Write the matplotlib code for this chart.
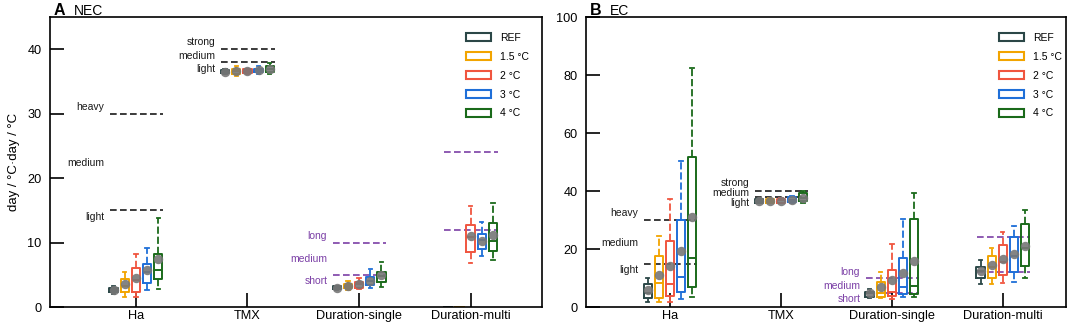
import numpy as np
import matplotlib.pyplot as plt
from matplotlib.patches import Patch

plt.rcParams['font.family'] = ['Liberation Sans', 'DejaVu Sans']

categories = ['Ha', 'TMX', 'Duration-single', 'Duration-multi']
scenarios = ['REF', '1.5 °C', '2 °C', '3 °C', '4 °C']
colors = ['#2b4747', '#f2a400', '#f0553f', '#1f6fd8', '#1a6a1a']

# thresholds per category (lower, upper)
thresholds = [[15, 30], [38, 40], [5, 10], [12, 24]]
thr_labels = [['light', 'medium', 'heavy'], ['light', 'medium', 'strong'],
              ['short', 'medium', 'long'], None]

# NEC panel: rows = categories, columns = scenarios
nec_lo = [[2.0, 1.6, 1.6, 2.6, 2.8], [36.2, 35.9, 36.1, 36.2, 36.1],
          [2.6, 2.6, 2.75, 3.0, 3.15], [0, 0, 6.9, 7.9, 7.3]]
nec_q1 = [[2.4, 2.3, 2.4, 3.8, 4.35], [36.3, 36.2, 36.3, 36.4, 36.5],
          [2.8, 2.9, 2.95, 3.4, 3.9], [0, 0, 8.5, 8.95, 8.7]]
nec_med = [[2.7, 3.2, 4.2, 5.4, 5.8], [36.5, 36.6, 36.6, 36.7, 36.9],
           [3.0, 3.3, 3.5, 4.0, 4.8], [0, 0, 10.9, 10.4, 10.3]]
nec_q3 = [[3.0, 4.3, 6.1, 6.6, 8.3], [36.8, 37.0, 36.9, 37.0, 37.4],
          [3.2, 3.6, 3.9, 4.6, 5.4], [0, 0, 12.7, 11.3, 13.0]]
nec_hi = [[3.3, 5.4, 8.3, 9.2, 13.8], [36.9, 37.4, 37.0, 37.4, 37.8],
          [3.3, 4.0, 4.45, 5.85, 7.0], [0, 0, 15.6, 13.25, 16.1]]
nec_mean = [[2.7, 3.5, 4.5, 5.7, 7.4], [36.5, 36.6, 36.6, 36.7, 36.9],
            [3.0, 3.3, 3.5, 4.1, 4.9], [np.nan, np.nan, 11.0, 10.3, 11.1]]

# EC panel
ec_lo = [[1.8, 1.6, 1.8, 2.6, 3.5], [35.8, 35.8, 35.9, 35.9, 35.9],
         [3.1, 3.0, 2.6, 3.5, 3.5], [7.8, 7.9, 8.4, 8.7, 9.9]]
ec_q1 = [[3.2, 3.2, 3.8, 5.1, 6.8], [36.0, 36.0, 36.0, 36.3, 36.4],
         [3.6, 3.6, 3.8, 4.5, 4.4], [9.9, 9.9, 11.0, 12.0, 14.3]]
ec_med = [[4.9, 8.2, 7.9, 10.5, 17.0], [36.7, 36.7, 36.8, 37.0, 37.5],
          [4.7, 4.7, 5.3, 6.8, 7.4], [12.4, 13.7, 15.4, 17.6, 20.3]]
ec_q3 = [[7.8, 17.7, 22.6, 30.0, 51.7], [37.4, 37.4, 37.4, 37.8, 39.2],
         [5.3, 8.7, 12.8, 17.0, 30.3], [13.7, 17.6, 21.4, 24.0, 28.7]]
ec_hi = [[10.1, 24.6, 37.3, 50.4, 82.4], [37.6, 37.6, 37.6, 38.4, 40.1],
         [6.3, 12.2, 21.6, 30.3, 39.2], [16.2, 20.5, 25.8, 28.1, 33.3]]
ec_mean = [[5.9, 11.0, 14.3, 19.4, 31.0], [36.7, 36.7, 36.7, 37.0, 37.6],
           [4.7, 7.0, 9.3, 11.8, 15.9], [12.4, 14.5, 16.6, 18.2, 21.2]]

panels = [
    dict(tag='A', name='NEC', stats=(nec_lo, nec_q1, nec_med, nec_q3, nec_hi, nec_mean),
         ylim=(0, 45), yticks=[0, 10, 20, 30, 40], xlim=(0.23, 4.64),
         rect=[50 / 1084, 21 / 328, 492 / 1084, 290 / 328], legx=0.846,
         # label y-positions for threshold texts (Ha, TMX, Duration-single)
         lab_y=[[14.0, 22.3, 31.0], [37.0, 38.9, 41.1], [4.0, 7.4, 11.0]]),
    dict(tag='B', name='EC', stats=(ec_lo, ec_q1, ec_med, ec_q3, ec_hi, ec_mean),
         ylim=(0, 100), yticks=[0, 20, 40, 60, 80, 100], xlim=(0.243, 4.57),
         rect=[586 / 1084, 21 / 328, 480 / 1084, 290 / 328], legx=0.86,
         lab_y=[[12.8, 22.1, 32.4], [35.8, 39.2, 42.7], [2.8, 7.4, 12.2]]),
]

offsets = np.array([-0.2, -0.1, 0.0, 0.1, 0.2])
purple = '#7b3fa6'

fig = plt.figure(figsize=(10.84, 3.28), dpi=100)

for p in panels:
    ax = fig.add_axes(p['rect'])
    lo, q1, med, q3, hi, mean = p['stats']
    centers = np.arange(1, len(categories) + 1)

    # threshold lines and their labels
    for i, thr in enumerate(thresholds):
        c = '#1a1a1a' if i < 2 else purple
        ax.hlines(thr, centers[i] - 0.235, centers[i] + 0.245, colors=c,
                  linestyles=(0, (4, 2)), lw=1.2, zorder=1)
        if thr_labels[i] is not None:
            for lab, yy in zip(thr_labels[i], p['lab_y'][i]):
                ax.text(centers[i] - 0.285, yy, lab, ha='right', va='center',
                        fontsize=7.5, color='#1a1a1a' if i < 2 else purple)

    # boxes, one scenario at a time
    for j, col in enumerate(colors):
        stats = []
        for i in range(len(categories)):
            stats.append(dict(whislo=lo[i][j], q1=q1[i][j], med=med[i][j],
                              q3=q3[i][j], whishi=hi[i][j]))
        pos = centers + offsets[j]
        ax.bxp(stats, positions=pos, widths=0.075, capwidths=0.03,
               showfliers=False, manage_ticks=False,
               boxprops=dict(color=col, lw=1.4),
               medianprops=dict(color=col, lw=1.4),
               whiskerprops=dict(color=col, lw=1.3, ls=(0, (4, 1.6))),
               capprops=dict(color=col, lw=1.3))
        ax.scatter(pos, [mean[i][j] for i in range(len(categories))],
                   s=46, color='#777777', alpha=0.9, zorder=5, linewidths=0)

    ax.set_xlim(*p['xlim'])
    ax.set_ylim(*p['ylim'])
    ax.set_yticks(p['yticks'])
    ax.set_xticks(centers)
    ax.set_xticklabels(categories, fontsize=9.2)
    ax.tick_params(axis='y', direction='in', length=10, width=1.2, pad=6, labelsize=9.2)
    ax.tick_params(axis='x', direction='in', length=10, width=1.2, pad=2)
    for s in ax.spines.values():
        s.set_linewidth(1.2)

    handles = [Patch(facecolor='white', edgecolor=c, lw=1.5, label=s)
               for c, s in zip(colors, scenarios)]
    ax.legend(handles=handles, loc='upper left', bbox_to_anchor=(p['legx'], 0.945),
              frameon=False, fontsize=7.5, handlelength=2.4, handleheight=0.85,
              labelspacing=0.85, handletextpad=0.85, borderpad=0, borderaxespad=0)

    x0 = p['rect'][0]
    fig.text(x0 + 4 / 1084, 1 - 15 / 328, p['tag'], fontsize=11.5, fontweight='bold',
             ha='left', va='baseline')
    fig.text(x0 + 24 / 1084, 1 - 15 / 328, p['name'], fontsize=10,
             ha='left', va='baseline')

    if p['tag'] == 'A':
        ax.set_ylabel('day / °C·day / °C', fontsize=9.5, labelpad=5)

fig.savefig('out.png', dpi=100)
